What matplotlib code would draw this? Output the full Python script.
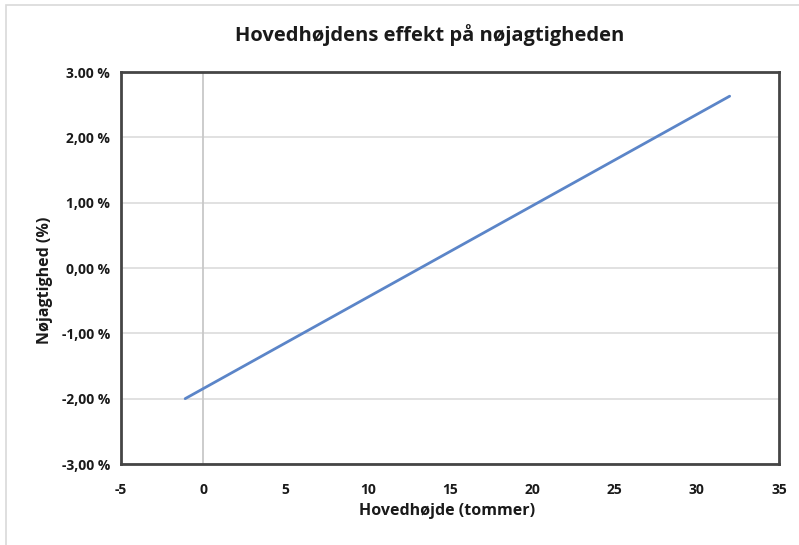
import matplotlib.pyplot as plt
from matplotlib.patches import Rectangle

plt.rcParams['font.family'] = ['Open Sans', 'DejaVu Sans']
plt.rcParams['axes.unicode_minus'] = False

# data
head_height = [-1.1, 32.0]          # inches
accuracy = [-2.0, 2.63]             # percent
x_ticks = [-5, 0, 5, 10, 15, 20, 25, 30, 35]
y_ticks = [-3, -2, -1, 0, 1, 2, 3]
y_tick_labels = ['-3,00 %', '-2,00 %', '-1,00 %', '0,00 %', '1,00 %', '2,00 %', '3.00 %']

fig = plt.figure(figsize=(7.99, 5.45), dpi=100)
ax = fig.add_axes([121 / 799, 1 - 464 / 545, (779 - 121) / 799, (464 - 72) / 545])

# light outer border around the chart
fig.patches.append(Rectangle((6 / 799, -0.01), 1.0, 1 - 5 / 545 + 0.01, transform=fig.transFigure,
                             fill=False, edgecolor='#d9d9d9', linewidth=1.2))

ax.axvline(0, color='#c8c8c8', linewidth=1.3, zorder=1)
ax.plot(head_height, accuracy, color='#5b85c8', linewidth=2.0, solid_capstyle='round', zorder=3)

ax.set_xlim(-5, 35)
ax.set_ylim(-3, 3)
ax.set_xticks(x_ticks)
ax.set_yticks(y_ticks)
ax.set_yticklabels(y_tick_labels)
ax.grid(axis='y', color='#dcdcdc', linewidth=1.2)
ax.set_axisbelow(True)

for s in ax.spines.values():
    s.set_color('#454545')
    s.set_linewidth(2)

ax.tick_params(length=0, labelsize=10, colors='#1a1a1a')
ax.tick_params(axis='x', pad=14)
ax.tick_params(axis='y', pad=8)
for lab in ax.get_xticklabels() + ax.get_yticklabels():
    lab.set_fontweight('bold')

ax.set_xlabel('Hovedhøjde (tommer)', fontsize=11.5, fontweight='bold', color='#1a1a1a')
ax.set_ylabel('Nøjagtighed (%)', fontsize=11.5, fontweight='bold', color='#1a1a1a')
ax.xaxis.set_label_coords(0.495, -0.12)
ax.yaxis.set_label_coords(-0.1155, 0.469)
ax.xaxis.label.set_va('center')
ax.yaxis.label.set_va('center')

fig.text(430 / 799, 1 - 41 / 545, 'Hovedhøjdens effekt på nøjagtigheden', ha='center', va='baseline',
         fontsize=14.5, fontweight='bold', color='#1a1a1a')

fig.savefig('out.png', dpi=100)
